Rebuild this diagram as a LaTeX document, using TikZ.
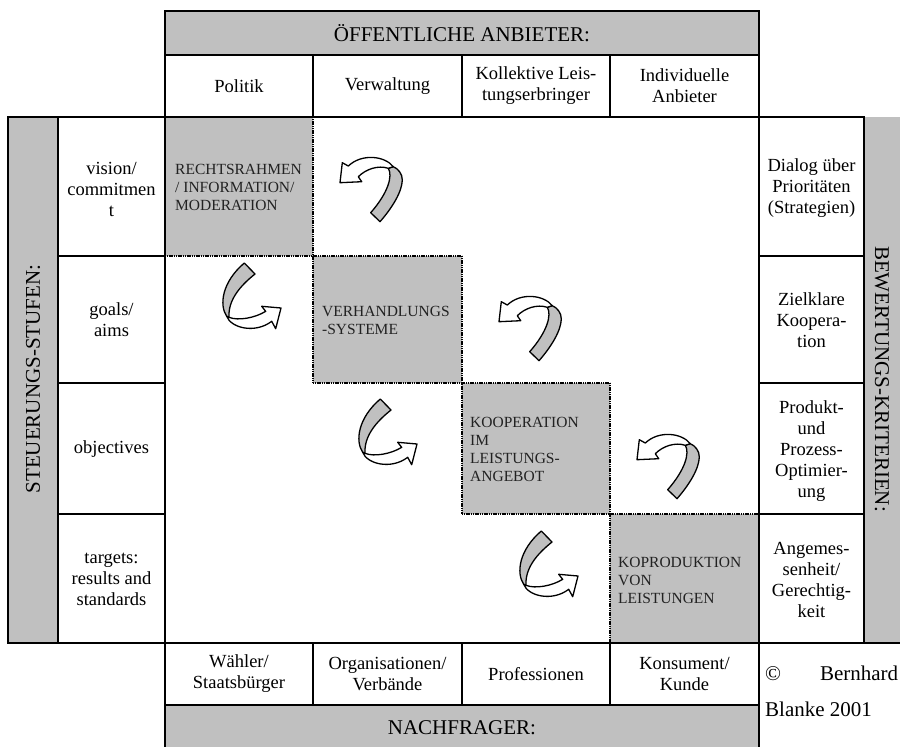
\documentclass[tikz,border=0pt]{standalone}
\usepackage{fontspec}
\setmainfont{Liberation Serif}
\definecolor{silv}{HTML}{C0C0C0}
\definecolor{boxtext}{HTML}{222222}
\begin{document}
\begin{tikzpicture}[x=1pt,y=-1pt,
  solid line/.style={line width=2pt, line cap=rect},
  dot line/.style={line width=1.6pt, dash pattern=on 1.2pt off 0.6pt},
  hdr/.style={inner sep=0pt, font={\fontsize{21}{25}\selectfont}},
  cell/.style={inner sep=0pt, align=center, font={\fontsize{18.5}{21}\selectfont}},
  boxtxt/.style={inner sep=0pt, align=left, anchor=west, text=boxtext, font={\fontsize{15.5}{18}\selectfont}},
  arrline/.style={line width=1.3pt, line join=round},
  arrA/.pic={
    \filldraw[arrline, fill=silv] (370.7,212.7) -- (380,221.7)
      .. controls (392,208) and (402,192) .. (402.3,180)
      .. controls (402.5,174) and (398,168.5) .. (393.3,166.7)
      -- (388.3,168.3)
      .. controls (393,176) and (388,193) .. (370.7,212.7) -- cycle;
    \filldraw[arrline, fill=white] (393.3,166.7)
      .. controls (385,156) and (362,153) .. (348.3,166)
      -- (342.3,162.7) -- (340,182.7) -- (361.7,181.7) -- (358.3,176.7)
      .. controls (366,169) and (378,165) .. (388.3,168.3) -- cycle;
  },
  arrB/.pic={
    \filldraw[arrline, fill=silv] (244.3,263) -- (255,274)
      .. controls (240,286) and (228,300) .. (229,317.3)
      -- (226.7,316.3)
      .. controls (219,305) and (222,282) .. (244.3,263) -- cycle;
    \filldraw[arrline, fill=white] (226.7,316.3)
      .. controls (231,328) and (255,334) .. (271.7,321.3)
      -- (275.7,328.7) -- (281,308) -- (261.7,306.3) -- (265.7,311.3)
      .. controls (255,318) and (238,321) .. (229,317.3) -- cycle;
  }
]
\useasboundingbox (0,0) rectangle (900,747);
% gray fills
\fill[silv] (165,11) rectangle (759,55);
\fill[silv] (165,705) rectangle (759,750);
\fill[silv] (8,117) rectangle (58,643);
\fill[silv] (864,117) rectangle (902,643);
\fill[silv] (165,117) rectangle (313,256);
\fill[silv] (313,256) rectangle (462,383);
\fill[silv] (462,383) rectangle (610,514);
\fill[silv] (610,514) rectangle (759,643);
% dotted borders of the diagonal boxes
\draw[dot line] (313,117) -- (313,383);
\draw[dot line] (165,256) -- (462,256);
\draw[dot line] (462,256) -- (462,514);
\draw[dot line] (313,383) -- (610,383);
\draw[dot line] (610,383) -- (610,643);
\draw[dot line] (462,514) -- (759,514);
% solid table lines
\draw[solid line] (165,11) -- (759,11);
\draw[solid line] (165,55) -- (759,55);
\draw[solid line] (8,117) -- (864,117);
\draw[solid line] (8,643) -- (902,643);
\draw[solid line] (165,705) -- (759,705);
\draw[solid line] (8,117) -- (8,643);
\draw[solid line] (58,117) -- (58,643);
\draw[solid line] (165,11) -- (165,750);
\draw[solid line] (759,11) -- (759,750);
\draw[solid line] (864,117) -- (864,643);
\foreach \x in {313,462,610} {
  \draw[solid line] (\x,55) -- (\x,117);
  \draw[solid line] (\x,643) -- (\x,705);
}
\foreach \y in {256,383,514} {
  \draw[solid line] (58,\y) -- (165,\y);
  \draw[solid line] (759,\y) -- (864,\y);
}
% header texts
\node[hdr] (top) at (462,33) {ÖFFENTLICHE ANBIETER:};
\node[hdr] (bottom) at (462,728) {NACHFRAGER:};
\node[hdr, rotate=90] (left) at (33,379) {STEUERUNGS-STUFEN:};
\node[hdr, rotate=-90] (right) at (882,379) {BEWERTUNGS-KRITERIEN:};
% top row
\node[cell] (t1) at (239,86) {Politik};
\node[cell] (t2) at (387.5,86) {Verwaltung};
\node[cell] (t3) at (536,86) {Kollektive Leis-\\tungserbringer};
\node[cell] (t4) at (684.5,86) {Individuelle\\Anbieter};
% bottom row
\node[cell] (b1) at (239,674) {Wähler/\\Staatsbürger};
\node[cell] (b2) at (387.5,674) {Organisationen/\\Verbände};
\node[cell] (b3) at (536,674) {Professionen};
\node[cell] (b4) at (684.5,674) {Konsument/\\Kunde};
% left column
\node[cell] (l1) at (111.5,189) {vision/\\commitmen\\t};
\node[cell] (l2) at (111.5,320) {goals/\\aims};
\node[cell] (l3) at (111.5,449) {objectives};
\node[cell] (l4) at (111.5,579) {targets:\\results and\\standards};
% right column
\node[cell] (r1) at (811.5,188) {Dialog über\\Prioritäten\\(Strategien)};
\node[cell] (r2) at (811.5,320) {Zielklare\\Koopera-\\tion};
\node[cell] (r3) at (811.5,451) {Produkt-\\und\\Prozess-\\Optimier-\\ung};
\node[cell] (r4) at (811.5,580) {Angemes-\\senheit/\\Gerechtig-\\keit};
% diagonal boxes
\node[boxtxt] (d1) at (175,187) {RECHTSRAHMEN\\/ INFORMATION/\\MODERATION};
\node[boxtxt] (d2) at (322,320) {VERHANDLUNGS\\-SYSTEME};
\node[boxtxt] (d3) at (470,449) {KOOPERATION\\IM\\LEISTUNGS-\\ANGEBOT};
\node[boxtxt] (d4) at (618,580) {KOPRODUKTION\\VON\\LEISTUNGEN};
% copyright
\node[hdr, anchor=west] (cp1) at (765,673) {\makebox[133pt][s]{©\hfill Bernhard}};
\node[hdr, anchor=west] (cp2) at (765,709) {Blanke 2001};
% curved arrows
\pic at (0,0) {arrA};
\pic at (159,139) {arrA};
\pic at (297,277) {arrA};
\pic at (0,0) {arrB};
\pic at (136,136) {arrB};
\pic at (297,268) {arrB};
\end{tikzpicture}
\end{document}
